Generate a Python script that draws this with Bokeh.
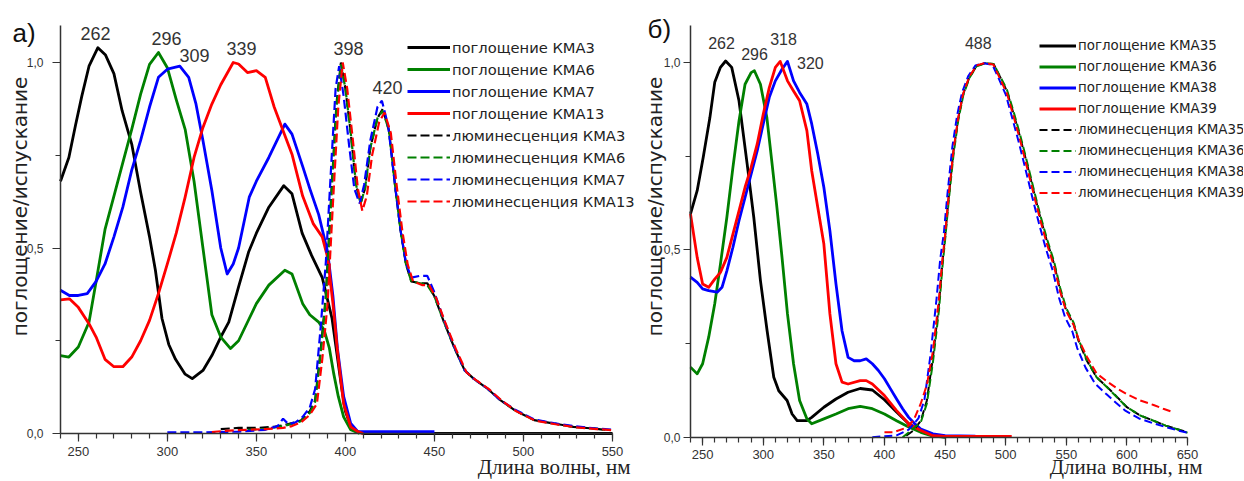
import math
from bokeh.plotting import figure
from bokeh.layouts import row
from bokeh.models import (Legend, LegendItem, Label, FixedTicker, Range1d, CustomJSTickFormatter)
from bokeh.core.properties import value
from bokeh.embed import file_html
from bokeh.resources import INLINE

# ---------------- data: panel а) ----------------
a_abs3_x = [240, 244.7, 248.4, 252, 256, 261, 265.3, 270, 274.6, 280, 285, 290, 293.3, 297, 300.8, 304.6, 310, 314,
            320, 325, 330, 334.5, 340, 345.7, 350, 357, 365.4, 370, 375.7, 381, 387, 392.5, 398, 400, 403, 406, 410,
            450, 500, 550]
a_abs3_y = [0.68, 0.744, 0.83, 0.91, 0.99, 1.04, 1.02, 0.97, 0.87, 0.78, 0.65, 0.53, 0.44, 0.31, 0.24, 0.20, 0.16, 0.148,
            0.17, 0.21, 0.26, 0.30, 0.395, 0.49, 0.54, 0.61, 0.668, 0.646, 0.54, 0.48, 0.42, 0.31, 0.12, 0.06, 0.02, 0.005, 0.0,
            0.0, 0.0, 0.0]
a_abs6_x = [240, 244.7, 250, 256, 260, 265, 270, 275, 280, 285, 290, 295, 300, 305, 310, 315, 320, 325, 330, 335.5,
            340, 346, 350, 357, 366, 370, 376, 380, 385, 388, 391, 393.5, 396, 399, 403, 408]
a_abs6_y = [0.21, 0.206, 0.233, 0.30, 0.41, 0.55, 0.64, 0.73, 0.82, 0.915, 0.995, 1.027, 0.986, 0.90, 0.82, 0.68, 0.50,
            0.32, 0.26, 0.229, 0.25, 0.31, 0.35, 0.40, 0.44, 0.43, 0.35, 0.32, 0.30, 0.28, 0.23, 0.16, 0.10, 0.045, 0.01, 0.0]
a_abs7_x = [240, 245, 250, 255, 260, 265, 270, 275, 280, 285, 290, 295, 300, 307, 312, 316, 320, 325, 330, 333.6, 337,
            340, 346, 350, 357, 366, 370, 376, 380, 385, 390, 393, 395.5, 399, 403, 407, 450]
a_abs7_y = [0.386, 0.372, 0.372, 0.377, 0.41, 0.457, 0.53, 0.61, 0.71, 0.79, 0.88, 0.96, 0.982, 0.99, 0.96, 0.89, 0.79,
            0.655, 0.50, 0.43, 0.457, 0.50, 0.637, 0.68, 0.744, 0.834, 0.807, 0.72, 0.66, 0.59, 0.49, 0.37, 0.23, 0.10,
            0.027, 0.005, 0.005]
a_abs13_x = [240, 245, 250, 256, 260, 265, 270, 275, 280, 285, 290, 295, 300, 305, 310, 315, 320, 325, 330, 337, 340,
             345, 350, 355, 360, 365, 370, 376, 382, 387, 390, 393, 395.5, 399, 403, 407, 410]
a_abs13_y = [0.36, 0.363, 0.34, 0.296, 0.26, 0.20, 0.18, 0.18, 0.206, 0.25, 0.305, 0.377, 0.457, 0.54, 0.637, 0.744,
             0.825, 0.888, 0.94, 1.0, 0.996, 0.973, 0.978, 0.96, 0.88, 0.816, 0.753, 0.64, 0.565, 0.53, 0.475, 0.35, 0.224,
             0.08, 0.018, 0.005, 0.0]

a_lum3_x = [330, 340, 350, 360, 365, 370, 375, 380, 383, 386, 389, 392, 395, 397.5, 400, 403, 406, 408.5, 411, 414, 418,
            421, 424.5, 428, 431, 434, 437, 442, 446, 450, 455, 461, 467, 472, 480, 487, 495, 506, 517, 528, 540, 546]
a_lum3_y = [0.012, 0.015, 0.015, 0.018, 0.022, 0.028, 0.035, 0.06, 0.09, 0.22, 0.37, 0.64, 0.89, 1.0, 0.93, 0.81, 0.67,
            0.62, 0.66, 0.77, 0.85, 0.875, 0.816, 0.664, 0.547, 0.457, 0.41, 0.405, 0.405, 0.37, 0.305, 0.233, 0.17, 0.148,
            0.12, 0.09, 0.063, 0.036, 0.027, 0.018, 0.013, 0.01]
a_lum6_x = [345, 355, 365, 370, 375, 380, 383, 386, 389, 392, 395, 397.5, 400, 403, 406, 408.5, 411, 414, 418, 421,
            424.5, 428, 431, 434, 437, 442, 446, 450, 455, 461, 467, 472, 480, 487, 495, 506, 517, 528, 540, 546]
a_lum6_y = [0.01, 0.012, 0.02, 0.026, 0.033, 0.055, 0.085, 0.21, 0.36, 0.63, 0.88, 0.995, 0.93, 0.81, 0.67, 0.62, 0.66,
            0.77, 0.85, 0.87, 0.816, 0.664, 0.547, 0.457, 0.41, 0.405, 0.40, 0.37, 0.305, 0.233, 0.17, 0.148, 0.12, 0.09,
            0.063, 0.036, 0.027, 0.018, 0.013, 0.01]
a_lum7_x = [300, 320, 340, 355, 362, 365, 368, 372, 376, 380, 383, 386, 389, 392, 394.5, 396.5, 399, 402, 405, 408,
            410.5, 414, 418, 420.5, 424, 428, 431, 434, 437, 442, 446, 450, 455, 461, 467, 472, 480, 487, 495, 506, 517,
            528, 540, 550]
a_lum7_y = [0.003, 0.003, 0.005, 0.01, 0.02, 0.04, 0.025, 0.03, 0.045, 0.07, 0.12, 0.28, 0.46, 0.72, 0.93, 0.99, 0.91,
            0.78, 0.66, 0.62, 0.67, 0.79, 0.88, 0.897, 0.83, 0.664, 0.547, 0.46, 0.42, 0.425, 0.425, 0.38, 0.31, 0.235,
            0.17, 0.148, 0.12, 0.09, 0.065, 0.038, 0.028, 0.02, 0.014, 0.01]
a_lum13_x = [325, 335, 345, 355, 365, 370, 375, 380, 384, 387, 390, 393, 396, 398.5, 401, 404, 407, 409.5, 412, 415,
             419, 422, 425.5, 429, 432, 435, 438, 443, 447, 451, 456, 462, 468, 473, 481, 488, 496, 507, 518, 529, 541, 550]
a_lum13_y = [0.004, 0.008, 0.01, 0.012, 0.015, 0.02, 0.03, 0.05, 0.08, 0.2, 0.35, 0.62, 0.88, 1.0, 0.93, 0.80, 0.66,
             0.60, 0.64, 0.75, 0.84, 0.865, 0.81, 0.66, 0.545, 0.455, 0.41, 0.40, 0.40, 0.365, 0.30, 0.228, 0.165, 0.145,
             0.118, 0.088, 0.06, 0.034, 0.025, 0.017, 0.012, 0.009]

# ---------------- data: panel б) ----------------
b_abs35_x = [240, 245.5, 250.5, 256, 260, 264.7, 269, 274, 280, 286.7, 292.2, 297.7, 303.2, 308.7, 312.8, 319.7, 323.8,
             328, 336, 340, 350, 360, 370, 380, 390, 400, 410, 420, 430, 440, 450]
b_abs35_y = [0.596, 0.658, 0.747, 0.853, 0.947, 0.987, 1.004, 0.987, 0.898, 0.73, 0.587, 0.418, 0.284, 0.16, 0.124, 0.098,
             0.062, 0.044, 0.044, 0.053, 0.08, 0.102, 0.12, 0.13, 0.126, 0.10, 0.067, 0.036, 0.018, 0.004, 0.0]
b_abs36_x = [240, 245.5, 250, 255, 260, 264.7, 270, 275, 280, 285, 290, 292.7, 297.7, 303, 307, 311, 315.5, 320, 325,
             330, 336, 340, 350, 360, 370, 380, 390, 400, 410, 420, 430, 440, 450]
b_abs36_y = [0.187, 0.169, 0.196, 0.267, 0.356, 0.462, 0.587, 0.72, 0.844, 0.942, 0.973, 0.978, 0.942, 0.853, 0.738,
             0.622, 0.48, 0.329, 0.196, 0.098, 0.049, 0.036, 0.049, 0.062, 0.076, 0.082, 0.076, 0.062, 0.044, 0.027, 0.013,
             0.003, 0.0]
b_abs38_x = [240, 245.5, 250, 255, 262, 266, 270, 275, 280, 285, 290, 295, 300, 305, 310, 315.5, 320, 325, 330, 336,
             340, 345, 350, 355, 360, 365, 370, 375, 380, 385, 390, 395, 400, 405, 410, 415, 420, 425, 430, 440, 450, 475]
b_abs38_y = [0.427, 0.413, 0.396, 0.391, 0.387, 0.40, 0.444, 0.507, 0.578, 0.64, 0.702, 0.764, 0.836, 0.907, 0.951,
             0.982, 1.003, 0.951, 0.92, 0.889, 0.836, 0.756, 0.667, 0.551, 0.409, 0.284, 0.213, 0.204, 0.204, 0.209,
             0.196, 0.178, 0.156, 0.129, 0.102, 0.076, 0.053, 0.036, 0.022, 0.009, 0.004, 0.003]
b_abs39_x = [240, 245.5, 250, 255, 260, 264.7, 270, 275, 280, 285, 290, 295, 300, 305, 310, 314, 320, 325, 330, 336,
             340, 345, 350, 355, 360, 365, 370, 380, 385, 390, 400, 410, 420, 430, 440, 450, 505]
b_abs39_y = [0.596, 0.48, 0.409, 0.40, 0.422, 0.44, 0.48, 0.542, 0.604, 0.667, 0.72, 0.782, 0.862, 0.933, 0.987, 1.003,
             0.951, 0.924, 0.898, 0.818, 0.711, 0.613, 0.516, 0.329, 0.196, 0.147, 0.142, 0.151, 0.151, 0.142, 0.111,
             0.071, 0.036, 0.018, 0.004, 0.002, 0.002]

b_lum35_x = [418, 424, 430, 435, 440, 445, 447.7, 450, 453, 457, 461, 465, 470, 476, 483, 490, 495.6, 501, 506.6, 512,
             517.6, 523, 528.5, 534, 540, 545, 550, 556, 560, 567, 575, 584, 592, 600, 611, 622, 632, 643, 650]
b_lum35_y = [0.004, 0.018, 0.044, 0.098, 0.213, 0.356, 0.462, 0.533, 0.64, 0.764, 0.853, 0.916, 0.96, 0.991, 0.998,
             0.996, 0.96, 0.924, 0.862, 0.80, 0.729, 0.658, 0.587, 0.524, 0.462, 0.391, 0.338, 0.302, 0.258, 0.204, 0.16,
             0.133, 0.107, 0.08, 0.058, 0.044, 0.031, 0.02, 0.013]
b_lum36_x = [415, 421, 430, 435, 440, 445, 447.7, 450, 453, 457, 461, 465, 470, 476, 483, 490, 495.6, 501, 506.6, 512,
             517.6, 523, 528.5, 534, 540, 545, 550, 556, 560, 567, 575, 584, 592, 600, 611, 622, 632, 643, 650]
b_lum36_y = [0.0, 0.015, 0.04, 0.09, 0.2, 0.34, 0.45, 0.525, 0.63, 0.755, 0.848, 0.912, 0.958, 0.99, 0.998, 0.996,
             0.962, 0.928, 0.868, 0.806, 0.735, 0.664, 0.593, 0.53, 0.468, 0.398, 0.344, 0.306, 0.262, 0.206, 0.16,
             0.132, 0.106, 0.08, 0.058, 0.044, 0.031, 0.02, 0.012]
b_lum38_x = [390, 410, 420, 428, 433, 438, 443, 446, 449, 452, 456, 460, 464, 469, 475, 482, 489, 494.6, 500, 505.6,
             511, 516.6, 522, 527.5, 533, 539, 544, 549, 555, 559, 566, 574, 583, 591, 599, 610, 621, 631, 642, 650]
b_lum38_y = [0.0, 0.005, 0.02, 0.05, 0.1, 0.22, 0.37, 0.475, 0.545, 0.65, 0.775, 0.86, 0.92, 0.963, 0.992, 0.998,
             0.994, 0.955, 0.915, 0.85, 0.785, 0.712, 0.64, 0.57, 0.505, 0.443, 0.372, 0.32, 0.282, 0.238, 0.185, 0.142,
             0.115, 0.092, 0.07, 0.05, 0.038, 0.028, 0.018, 0.012]
b_lum39_x = [400, 407, 418, 424, 430, 435, 440, 445, 447.7, 450, 453, 457, 461, 465, 470, 476, 483, 490, 495.6, 501,
             506.6, 512, 517.6, 523, 528.5, 534, 540, 545, 550, 556, 560, 567, 575, 584, 592, 600, 611, 622, 630, 637]
b_lum39_y = [0.013, 0.013, 0.025, 0.045, 0.09, 0.14, 0.23, 0.37, 0.47, 0.54, 0.645, 0.768, 0.855, 0.918, 0.962, 0.992,
             0.999, 0.994, 0.955, 0.918, 0.855, 0.792, 0.72, 0.65, 0.58, 0.516, 0.455, 0.388, 0.336, 0.30, 0.262, 0.215,
             0.17, 0.148, 0.13, 0.115, 0.098, 0.086, 0.076, 0.068]

# peak annotations (text, and where each label sits)
a_peak_text = ["262", "296", "309", "339", "398", "420"]
a_peak_x = [259.7, 299.5, 315.2, 341.6, 401.7, 423.6]
a_peak_y = [1.078, 1.065, 1.019, 1.038, 1.038, 0.933]
b_peak_text = ["262", "296", "318", "320", "488"]
b_peak_x = [265.6, 292.8, 316.7, 338.9, 477.4]
b_peak_y = [1.053, 1.024, 1.064, 1.0, 1.051]

a_labels_abs = ["поглощение КМА3", "поглощение КМА6", "поглощение КМА7", "поглощение КМА13"]
a_labels_lum = ["люминесценция КМА3", "люминесценция КМА6", "люминесценция КМА7", "люминесценция КМА13"]
b_labels_abs = ["поглощение КМА35", "поглощение КМА36", "поглощение КМА38", "поглощение КМА39"]
b_labels_lum = ["люминесценция КМА35", "люминесценция КМА36", "люминесценция КМА38", "люминесценция КМА39"]

a_xticks = [250, 300, 350, 400, 450, 500, 550]
b_xticks = [250, 300, 350, 400, 450, 500, 550, 600, 650]
yticks = [0.0, 0.5, 1.0]

COLORS = ["#000000", "#008000", "#0000ff", "#ff0000"]
SANS = "Liberation Sans"
WIDE = "DejaVu Sans"
SERIF = "Liberation Serif"
H = 480

comma_fmt = CustomJSTickFormatter(code="return tick.toFixed(1).replace('.', ',');")


def ranges(width, x0, px0, x1, px1, py0, py1):
    # frame covers the whole figure; map data anchors to pixel anchors
    sx = (px1 - px0) / (x1 - x0)
    xr = Range1d(x0 - px0 / sx, x0 + (width - px0) / sx)
    sy = py0 - py1
    yr = Range1d(-(H - py0) / sy, py0 / sy)
    return xr, yr


def build(width, xr, yr, xmin, xmax, xticks, ystand, ytick_out,
          abs_data, lum_data, abs_labels, lum_labels, dash, lw_abs, lw_lum):
    p = figure(width=width, height=H, x_range=xr, y_range=yr,
               output_backend="svg", toolbar_location=None, min_border=0,
               min_border_left=0, min_border_right=0, min_border_top=0, min_border_bottom=0)
    p.grid.visible = False
    p.outline_line_color = None
    xa, ya = p.xaxis[0], p.yaxis[0]
    xa.fixed_location = 0
    ya.fixed_location = xmin
    xa.bounds = (xmin, xmax)
    ya.bounds = (0, 1.1)
    for ax in (xa, ya):
        ax.axis_line_color = "#333333"
        ax.axis_line_width = 1.5
        ax.major_tick_line_color = "#333333"
        ax.minor_tick_line_color = "#333333"
        ax.major_tick_line_width = 1.2
        ax.minor_tick_line_width = 1.2
        ax.major_tick_in = 0
        ax.minor_tick_in = 0
        ax.major_label_text_color = "#333333"
        ax.major_label_text_font = SANS
    xa.ticker = FixedTicker(ticks=xticks, minor_ticks=list(range(xmin, xmax + 1, 10)))
    xa.major_tick_out = 8
    xa.minor_tick_out = 5
    xa.major_label_text_font_size = "13px"
    xa.major_label_standoff = 5
    ya.ticker = FixedTicker(ticks=yticks, minor_ticks=[0.25, 0.75])
    ya.formatter = comma_fmt
    ya.major_tick_out = ytick_out
    ya.minor_tick_out = 5
    ya.major_label_text_font_size = "12px"
    ya.major_label_standoff = ystand
    abs_r = []
    for (xs, ys), c in zip(abs_data, COLORS):
        abs_r.append(p.line(xs, ys, line_color=c, line_width=lw_abs, line_join="round"))
    lum_r = []
    for (xs, ys), c in zip(lum_data, COLORS):
        lum_r.append(p.line(xs, ys, line_color=c, line_width=lw_lum, line_dash=dash))
    items = [LegendItem(label=l, renderers=[r]) for l, r in zip(abs_labels, abs_r)]
    items += [LegendItem(label=l, renderers=[r]) for l, r in zip(lum_labels, lum_r)]
    return p, items


WA, WB = 640, 603
xra, yra = ranges(WA, 240, 60, 550, 612, 433, 62)
xrb, yrb = ranges(WB, 240, 50, 650, 547, 436.7, 62)

pa, items_a = build(WA, xra, yra, 240, 550, a_xticks, 9, 8,
                    [(a_abs3_x, a_abs3_y), (a_abs6_x, a_abs6_y), (a_abs7_x, a_abs7_y), (a_abs13_x, a_abs13_y)],
                    [(a_lum3_x, a_lum3_y), (a_lum6_x, a_lum6_y), (a_lum7_x, a_lum7_y), (a_lum13_x, a_lum13_y)],
                    a_labels_abs, a_labels_lum, "9 4", 2.8, 2.2)
pb, items_b = build(WB, xrb, yrb, 240, 650, b_xticks, 3, 7,
                    [(b_abs35_x, b_abs35_y), (b_abs36_x, b_abs36_y), (b_abs38_x, b_abs38_y), (b_abs39_x, b_abs39_y)],
                    [(b_lum35_x, b_lum35_y), (b_lum36_x, b_lum36_y), (b_lum38_x, b_lum38_y), (b_lum39_x, b_lum39_y)],
                    b_labels_abs, b_labels_lum, "8 4", 2.8, 2.0)

leg_a = Legend(items=items_a, location=(407, H - 212), padding=0, margin=0, spacing=0,
               glyph_width=43, glyph_height=22, label_height=22, label_standoff=2,
               label_text_font=WIDE, label_text_font_size="14.7px", label_text_color="#222222",
               border_line_color=None, background_fill_alpha=0)
pa.add_layout(leg_a)
leg_b = Legend(items=items_b, location=(399, H - 202.5), padding=0, margin=0, spacing=0,
               glyph_width=37, glyph_height=21, label_height=21, label_standoff=2,
               label_text_font=WIDE, label_text_font_size="13.4px", label_text_color="#222222",
               border_line_color=None, background_fill_alpha=0)
pb.add_layout(leg_b)

pa.text(x=a_peak_x, y=a_peak_y, text=a_peak_text, text_align="center", text_baseline="middle",
        text_font=value(SANS), text_font_size="18px", text_color="#333333")
pb.text(x=b_peak_x, y=b_peak_y, text=b_peak_text, text_align="center", text_baseline="middle",
        text_font=value(SANS), text_font_size="16px", text_color="#333333")


def add_texts(p, letter, lx, ly, yl_x, yl_y, xl_x, xl_y):
    p.add_layout(Label(x=lx, y=ly, x_units="screen", y_units="screen", text=letter,
                       text_font=SANS, text_font_size="26px", text_color="#111111",
                       text_align="left", text_baseline="middle"))
    p.add_layout(Label(x=yl_x, y=yl_y, x_units="screen", y_units="screen", text="поглощение/испускание",
                       angle=math.pi / 2, text_font=WIDE, text_font_size="20px", text_color="#222222",
                       text_align="center", text_baseline="middle"))
    p.add_layout(Label(x=xl_x, y=xl_y, x_units="screen", y_units="screen", text="Длина волны, нм",
                       text_font=SERIF, text_font_size="21px", text_color="#222222",
                       text_align="right", text_baseline="middle"))


add_texts(pa, "а)", 12, H - 32, 19, H - 206, 630, H - 466)
add_texts(pb, "б)", 7, H - 28, 14, H - 206, 562, H - 466)

layout = row(pa, pb)
open("out.html", "w").write(file_html(layout, INLINE))
